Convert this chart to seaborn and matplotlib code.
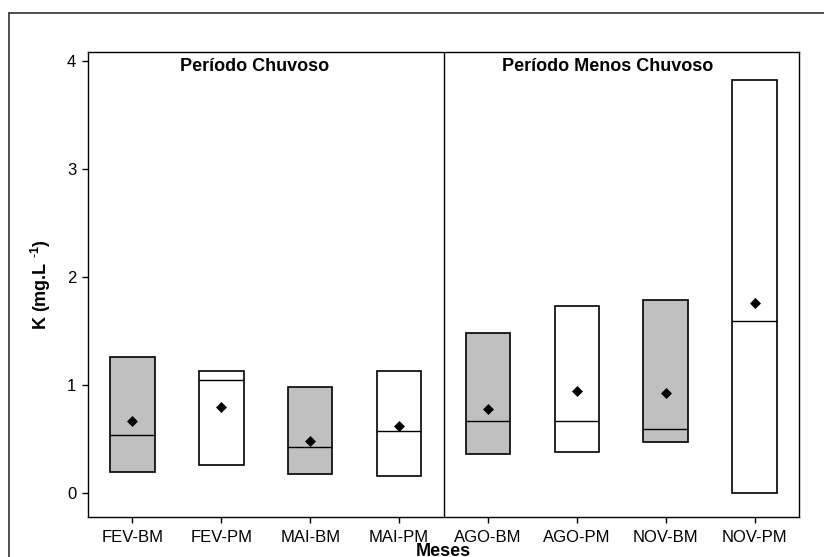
import matplotlib
matplotlib.use("Agg")
import matplotlib.pyplot as plt
from matplotlib.lines import Line2D
import seaborn as sns
import pandas as pd

# ---- data ----
months = ["FEV-BM", "FEV-PM", "MAI-BM", "MAI-PM", "AGO-BM", "AGO-PM", "NOV-BM", "NOV-PM"]
site = ["BM", "PM", "BM", "PM", "BM", "PM", "BM", "PM"]
box_low = [0.19, 0.26, 0.18, 0.16, 0.36, 0.38, 0.47, 0.00]
box_high = [1.26, 1.13, 0.98, 1.13, 1.48, 1.73, 1.79, 3.82]
medians = [0.54, 1.05, 0.43, 0.575, 0.67, 0.67, 0.59, 1.59]
means = [0.67, 0.80, 0.48, 0.62, 0.78, 0.94, 0.93, 1.76]
yticks = [0, 1, 2, 3, 4]
period_labels = ["Período Chuvoso", "Período Menos Chuvoso"]

sns.set_style("ticks")
plt.rcParams["font.family"] = ["Liberation Sans", "DejaVu Sans"]
plt.rcParams["mathtext.fontset"] = "custom"
plt.rcParams["mathtext.rm"] = "Liberation Sans"
plt.rcParams["mathtext.bf"] = "Liberation Sans:bold"
plt.rcParams["text.color"] = "black"
plt.rcParams["axes.labelcolor"] = "black"
plt.rcParams["xtick.color"] = "black"
plt.rcParams["ytick.color"] = "black"
plt.rcParams["axes.edgecolor"] = "black"

# long table: each box described by its low / median / high values
rows = []
for m, s, lo, md, hi in zip(months, site, box_low, medians, box_high):
    for v in (lo, lo, md, hi, hi):
        rows.append({"mes": m, "tipo": s, "K": v})
df = pd.DataFrame(rows)

fig = plt.figure(figsize=(8.24, 5.57), dpi=100)
ax = fig.add_axes([88 / 824, 40 / 557, 711 / 824, 465 / 557])

sns.boxplot(data=df, x="mes", y="K", hue="tipo", order=months,
            palette={"BM": "#c0c0c0", "PM": "white"}, saturation=1,
            dodge=False, width=0.5, showcaps=False, linecolor="black",
            linewidth=1.2, fliersize=0, legend=False, ax=ax,
            medianprops={"color": "black", "linewidth": 1.0})

sns.pointplot(x=months, y=means, order=months, linestyle="none", marker="D",
              color="black", errorbar=None, markersize=4.8,
              markeredgewidth=0.5, ax=ax)

ax.axvline(3.5, color="black", linewidth=1.0)

ax.set_xlim(-0.5, 7.5)
ax.set_ylim(-0.222, 4.083)
ax.set_yticks(yticks)
ax.set_yticklabels([str(t) for t in yticks])

for sp in ax.spines.values():
    sp.set_visible(True)
    sp.set_linewidth(1.0)
    sp.set_color("black")

ax.tick_params(axis="both", labelsize=12, length=4.5, width=1.0,
               direction="out", pad=4)
ax.tick_params(axis="x", pad=5)

ax.text(1.37, 3.95, period_labels[0], ha="center", va="center",
        fontsize=13, fontweight="bold")
ax.text(5.35, 3.95, period_labels[1], ha="center", va="center",
        fontsize=13, fontweight="bold")

ax.set_ylabel(r"K (mg.L $\mathbf{^{\text{-}1}}$)", fontsize=13, fontweight="bold")
ax.yaxis.set_label_coords(-0.049, 0.5)
ax.set_xlabel("Meses", fontsize=13, fontweight="bold")
ax.xaxis.set_label_coords(0.5, -0.056)

# outer frame (left and top edges visible, rest clipped by the figure)
fig.add_artist(Line2D([9 / 824, 9 / 824], [-0.1, 1 - 13 / 557],
                      transform=fig.transFigure, color="#404040", linewidth=1.3))
fig.add_artist(Line2D([9 / 824, 1.1], [1 - 13 / 557, 1 - 13 / 557],
                      transform=fig.transFigure, color="#404040", linewidth=1.3))

fig.savefig("out.png", dpi=100)
